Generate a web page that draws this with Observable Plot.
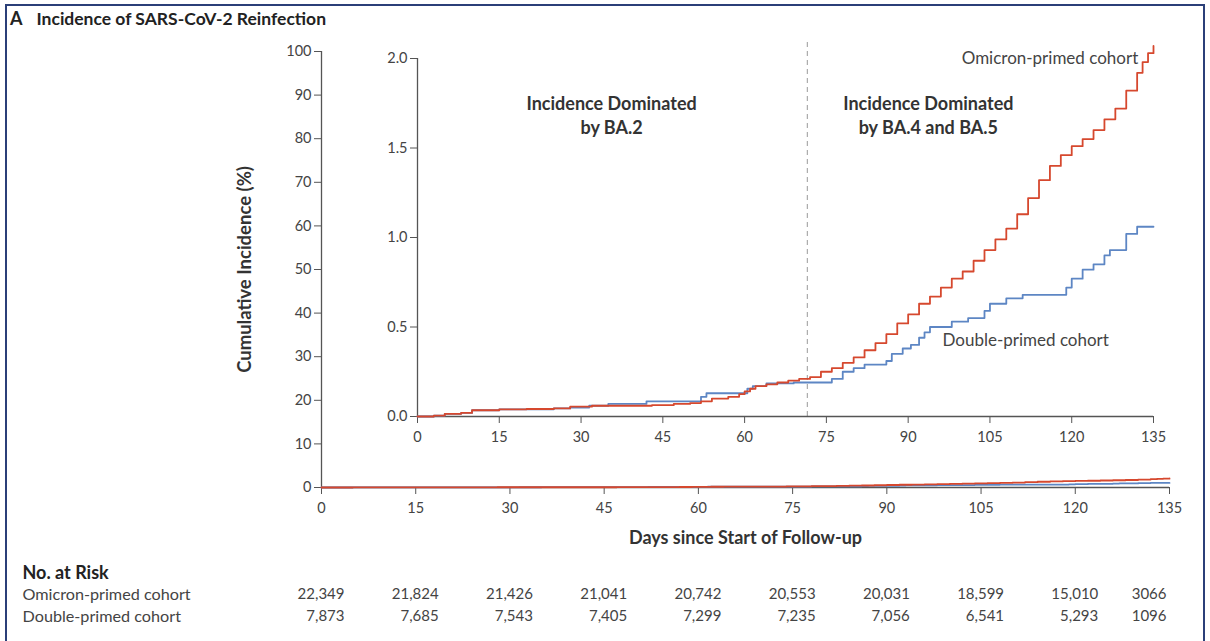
<!DOCTYPE html>
<html><head><meta charset="utf-8">
<script src="https://cdn.jsdelivr.net/npm/d3@7"></script>
<script src="https://cdn.jsdelivr.net/npm/@observablehq/plot@0.6"></script>
<style>
body{margin:0;background:#fff;font-family:Lato,"Open Sans",sans-serif;}
#wrap{position:relative;width:1210px;height:641px;overflow:hidden;background:#fff;}
#frame{position:absolute;left:5px;top:4px;width:1200px;height:660px;border:2px solid #2b3f78;box-sizing:border-box;}
.layer{position:absolute;left:0;top:0;}
#title{position:absolute;left:10px;top:7px;font-weight:bold;font-size:17.5px;color:#222;white-space:nowrap;}
#title .lt{font-size:18px;margin-right:14px;}
</style></head>
<body>
<div id="wrap">
  <div id="frame"></div>
  <div id="title"><span class="lt">A</span>Incidence of SARS-CoV-2 Reinfection</div>
  <div id="main" class="layer"></div>
  <div id="inset" class="layer"></div>
  <div id="risk" class="layer" style="top:560px"></div>
</div>
<script>
// ---------- data ----------
const cohorts = ["Omicron-primed cohort", "Double-primed cohort"];

const omicronDays = [0,3,5,8,10,15,20,25,28,32,38,43,47,50,52,54,57,59,60,61,62,64,66,68,70,72,74,76,78,80,82,84,86,88,90,92,94,96,98,100,102,104,106,108,110,112,114,116,118,120,122,124,126,128,130,132,133,134,135];
const omicronInc  = [0,0.005,0.015,0.02,0.035,0.04,0.042,0.045,0.055,0.06,0.06,0.063,0.07,0.075,0.085,0.10,0.11,0.125,0.14,0.155,0.17,0.18,0.19,0.20,0.21,0.22,0.25,0.27,0.30,0.33,0.37,0.41,0.46,0.52,0.57,0.63,0.67,0.72,0.77,0.81,0.87,0.93,0.99,1.05,1.13,1.22,1.32,1.40,1.46,1.51,1.55,1.60,1.66,1.72,1.82,1.92,1.98,2.03,2.07];

const doubleDays = [0,3,5,8,10,15,25,28,31.5,35,42,52,53,60.5,61.5,64,69,72,76,78,80,82,86,87,89,90.5,92,93,94,98,101,104,105,108,111,119,120,122,124,126,127,130,132,135];
const doubleInc  = [0,0.005,0.015,0.02,0.035,0.04,0.045,0.05,0.06,0.07,0.085,0.11,0.13,0.155,0.17,0.185,0.19,0.19,0.21,0.25,0.27,0.29,0.31,0.35,0.38,0.40,0.44,0.47,0.50,0.53,0.55,0.59,0.63,0.66,0.68,0.72,0.77,0.82,0.85,0.90,0.93,1.02,1.06,1.06];

const xTicks = [0,15,30,45,60,75,90,105,120,135];
const yMainTicks = [0,10,20,30,40,50,60,70,80,90,100];
const yInsetTicks = [0,0.5,1.0,1.5,2.0];

const riskDays = [0,15,30,45,60,75,90,105,120,135];
const omicronRisk = ["22,349","21,824","21,426","21,041","20,742","20,553","20,031","18,599","15,010","3066"];
const doubleRisk  = ["7,873","7,685","7,543","7,405","7,299","7,235","7,056","6,541","5,293","1096"];

const boundaryDay = 71.5;
const periodLabels = [
  {day: 35.6, inc: 1.69, text: "Incidence Dominated\nby BA.2"},
  {day: 93.7, inc: 1.69, text: "Incidence Dominated\nby BA.4 and BA.5"}
];

// ---------- build ----------
const RED = "#d6482e", BLUE = "#5d86c4", AXIS = "#555";
const omicron = omicronDays.map((d, i) => ({day: d, inc: omicronInc[i]}));
const dbl = doubleDays.map((d, i) => ({day: d, inc: doubleInc[i]}));
const FONT = "Lato, 'Open Sans', sans-serif";

const main = Plot.plot({
  width: 1210, height: 560,
  marginLeft: 321, marginRight: 41, marginTop: 51, marginBottom: 73,
  x: {domain: [0, 135]},
  y: {domain: [0, 100]},
  style: {fontFamily: FONT, fontSize: "14.5px", color: "#444", background: "transparent", overflow: "visible"},
  marks: [
    Plot.axisX({ticks: xTicks, tickSize: 7, tickPadding: 8, label: null, stroke: AXIS}),
    Plot.axisY({ticks: yMainTicks, tickSize: 7, tickPadding: 3, label: null, stroke: AXIS}),
    Plot.ruleY([0], {stroke: AXIS, strokeWidth: 1.3}),
    Plot.ruleX([0], {stroke: AXIS, strokeWidth: 1.3}),
    Plot.line(dbl, {x: "day", y: "inc", curve: "step-after", stroke: BLUE, strokeWidth: 1.8}),
    Plot.line(omicron, {x: "day", y: "inc", curve: "step-after", stroke: RED, strokeWidth: 1.8}),
    Plot.text(["Cumulative Incidence (%)"], {text: d => d, frameAnchor: "left", textAnchor: "middle", rotate: -90, dx: -76, fontWeight: "bold", fontSize: 18.5, fill: "#333"}),
    Plot.text(["Days since Start of Follow-up"], {text: d => d, frameAnchor: "bottom", textAnchor: "middle", lineAnchor: "middle", dy: 51, fontWeight: "bold", fontSize: 18, fill: "#333"})
  ]
});
document.getElementById("main").append(main);

const inset = Plot.plot({
  width: 1210, height: 460,
  marginLeft: 417, marginRight: 57, marginTop: 58, marginBottom: 44,
  x: {domain: [0, 135]},
  y: {domain: [0, 2]},
  style: {fontFamily: FONT, fontSize: "14.5px", color: "#444", background: "transparent", overflow: "visible"},
  marks: [
    Plot.axisX({ticks: xTicks, tickSize: 7, tickPadding: 8, label: null, stroke: AXIS}),
    Plot.axisY({ticks: yInsetTicks, tickFormat: d3.format(".1f"), tickSize: 7, tickPadding: 3, label: null, stroke: AXIS}),
    Plot.ruleX([boundaryDay], {y1: 0, y2: 2.1, stroke: "#999", strokeDasharray: "5,4", strokeWidth: 1}),
    Plot.ruleY([0], {stroke: AXIS, strokeWidth: 1.3}),
    Plot.ruleX([0], {stroke: AXIS, strokeWidth: 1.3}),
    Plot.line(dbl, {x: "day", y: "inc", curve: "step-after", stroke: BLUE, strokeWidth: 1.8}),
    Plot.line(omicron, {x: "day", y: "inc", curve: "step-after", stroke: RED, strokeWidth: 1.8}),
    Plot.text(periodLabels, {x: "day", y: "inc", text: "text", fontWeight: "bold", fontSize: 18, fill: "#333", lineHeight: 1.33}),
    Plot.text(["Omicron-primed cohort"], {text: d => d, x: [132.2], y: [2.0], textAnchor: "end", fontSize: 17, fill: "#444"}),
    Plot.text(["Double-primed cohort"], {text: d => d, x: [96.3], y: [0.425], textAnchor: "start", fontSize: 17, fill: "#444"})
  ]
});
document.getElementById("inset").append(inset);

const riskRows = [];
riskDays.forEach((d, i) => {
  riskRows.push({day: d, cohort: cohorts[0], n: omicronRisk[i], last: i === riskDays.length - 1});
  riskRows.push({day: d, cohort: cohorts[1], n: doubleRisk[i], last: i === riskDays.length - 1});
});

const risk = Plot.plot({
  width: 1210, height: 81,
  marginLeft: 321, marginRight: 41, marginTop: 0, marginBottom: 0,
  x: {domain: [0, 135], axis: null},
  y: {type: "point", domain: cohorts, range: [34, 56], padding: 0, axis: null},
  style: {fontFamily: FONT, fontSize: "15px", color: "#333", background: "transparent", overflow: "visible"},
  marks: [
    Plot.text(riskRows.filter(r => !r.last), {x: "day", y: "cohort", text: "n", textAnchor: "end", dx: 23, fill: "#444"}),
    Plot.text(riskRows.filter(r => r.last), {x: "day", y: "cohort", text: "n", textAnchor: "end", dx: -3, fill: "#444"}),
    Plot.text(cohorts, {y: d => d, text: d => d, frameAnchor: "left", textAnchor: "start", dx: -299, fontSize: 16.2, fill: "#444"}),
    Plot.text(["No. at Risk"], {text: d => d, frameAnchor: "top-left", lineAnchor: "middle", textAnchor: "start", dx: -299, dy: 13, fontWeight: "bold", fontSize: 18, fill: "#222"})
  ]
});
document.getElementById("risk").append(risk);
</script>
</body></html>
